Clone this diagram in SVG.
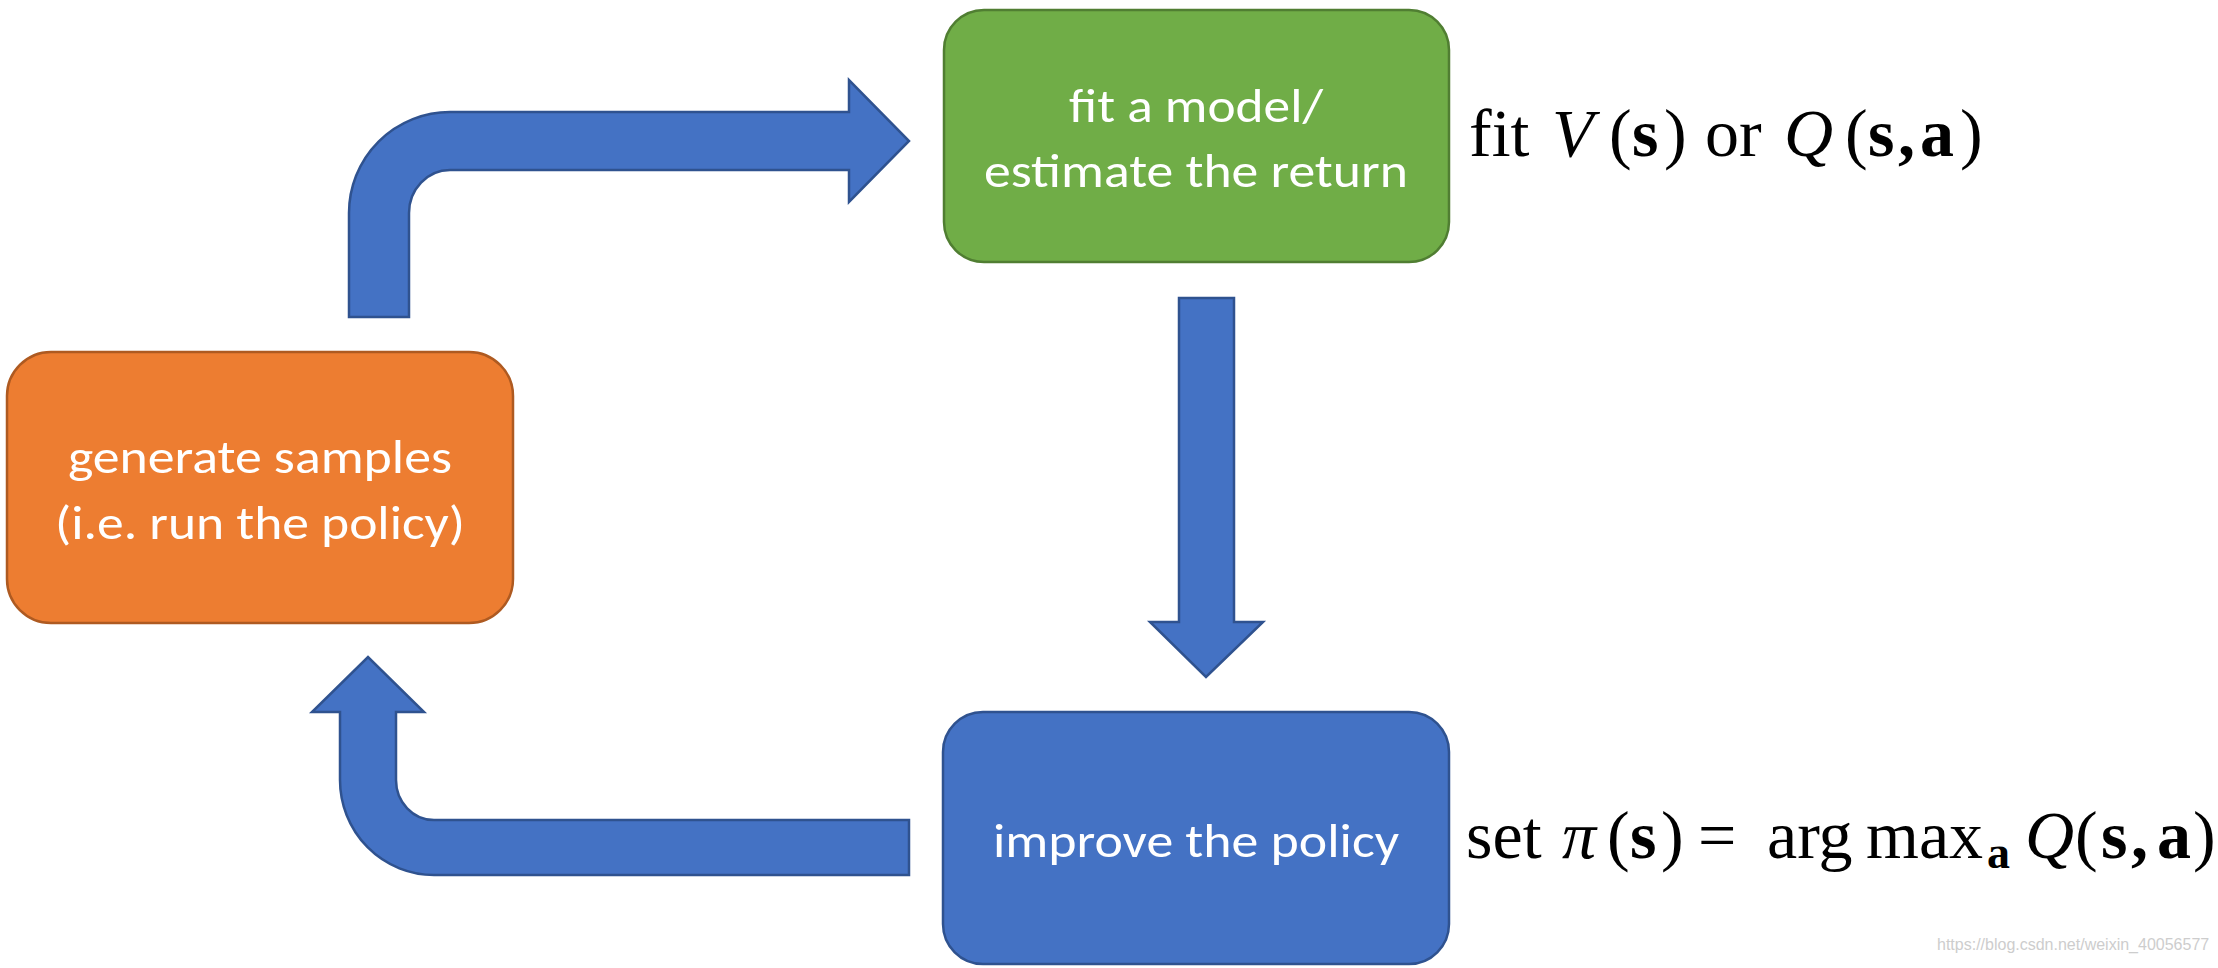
<svg xmlns="http://www.w3.org/2000/svg" width="2218" height="968" viewBox="0 0 2218 968">
<style>
.box{stroke-width:2.5}
.lbl{font-family:Carlito,"Open Sans","Liberation Sans",sans-serif;font-size:48px;fill:#ffffff;text-anchor:middle}
.math{font-family:"Liberation Serif","Times New Roman",serif;font-size:68px;fill:#000000}
.it{font-style:italic}
.bf{font-weight:bold}
.arrow{fill:#4472C4;stroke:#2F528F;stroke-width:2.5;stroke-linejoin:miter}
.wm{font-family:"Liberation Sans",Arial,sans-serif;font-size:16px;fill:#cdcdcd}
</style>
<rect width="2218" height="968" fill="#ffffff"/>
<g id="connectors">
<path class="arrow" d="M349,317 L349,213 A101,101 0 0 1 450,112 L849,112 L849,80 L909,141 L849,202 L849,170 L450,170 A41,43 0 0 0 409,213 L409,317 Z"/>
<path class="arrow" d="M1179,298 L1234,298 L1234,622 L1263,622 L1206,677 L1150,622 L1179,622 Z"/>
<path class="arrow" d="M909,820 L434,820 A38,40 0 0 1 396,780 L396,712 L424,712 L368,657 L312,712 L340,712 L340,780 A94,95 0 0 0 434,875 L909,875 Z"/>
</g>
<g id="fit-model">
<rect class="box" x="944" y="10" width="505" height="252" rx="40" ry="40" fill="#70AD47" stroke="#507E32"/>
<text class="lbl" x="1196" y="122" textLength="254" lengthAdjust="spacingAndGlyphs">fit a model/</text>
<text class="lbl" x="1196" y="187" textLength="424" lengthAdjust="spacingAndGlyphs">estimate the return</text>
</g>
<g id="generate-samples">
<rect class="box" x="7" y="352" width="506" height="271" rx="44" ry="44" fill="#ED7D31" stroke="#AE5A21"/>
<text class="lbl" x="260" y="473" textLength="384" lengthAdjust="spacingAndGlyphs">generate samples</text>
<text class="lbl" x="260" y="539" textLength="410" lengthAdjust="spacingAndGlyphs">(i.e. run the policy)</text>
</g>
<g id="improve-policy">
<rect class="box" x="943" y="712" width="506" height="252" rx="40" ry="40" fill="#4472C4" stroke="#2F528F"/>
<text class="lbl" x="1196" y="857" textLength="406" lengthAdjust="spacingAndGlyphs">improve the policy</text>
</g>
<g id="fit-formula">
<text class="math" y="156"><tspan x="1469">fit</tspan><tspan x="1552" class="it">V</tspan><tspan x="1609">(</tspan><tspan x="1632" class="bf">s</tspan><tspan x="1664">)</tspan><tspan x="1705">or</tspan><tspan x="1784" class="it">Q</tspan><tspan x="1845">(</tspan><tspan x="1868" class="bf">s</tspan><tspan x="1898" class="bf">,</tspan><tspan x="1920" class="bf">a</tspan><tspan x="1960">)</tspan></text>
</g>
<g id="set-formula">
<text class="math" y="858"><tspan x="1466">set</tspan><tspan x="1562" class="it">π</tspan><tspan x="1607">(</tspan><tspan x="1630" class="bf">s</tspan><tspan x="1661">)</tspan><tspan x="1698">=</tspan><tspan x="1767">arg</tspan><tspan x="1866">max</tspan><tspan x="1987" y="868" class="bf" font-size="46">a</tspan><tspan x="2025" y="858" class="it">Q</tspan><tspan x="2075">(</tspan><tspan x="2101" class="bf">s</tspan><tspan x="2131" class="bf">,</tspan><tspan x="2157" class="bf">a</tspan><tspan x="2193">)</tspan></text>
</g>
<text class="wm" x="1937" y="950">https://blog.csdn.net/weixin_40056577</text>
</svg>
